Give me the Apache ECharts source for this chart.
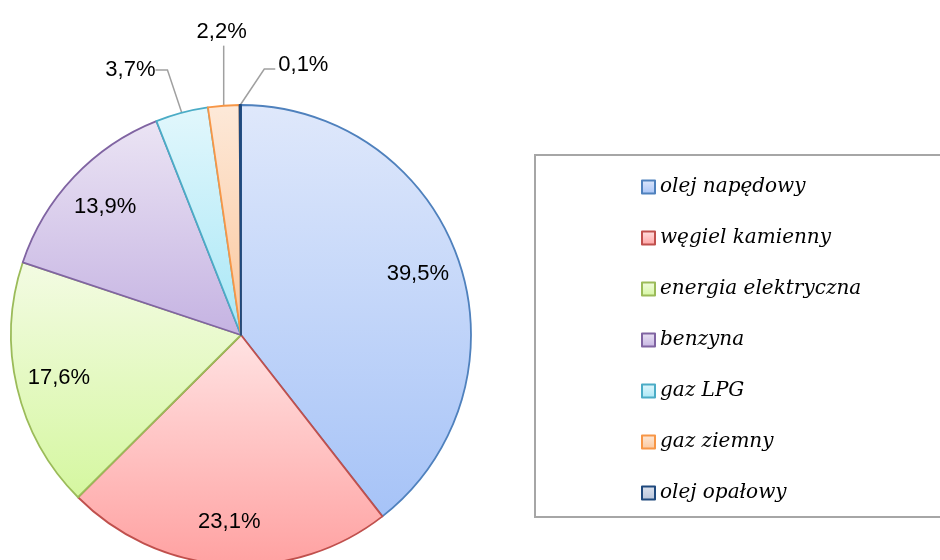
<!DOCTYPE html>
<html>
<head>
<meta charset="utf-8">
<script src="https://cdn.jsdelivr.net/npm/echarts@6/dist/echarts.min.js"></script>
<style>
  html, body { margin: 0; padding: 0; background: #fff; }
  #main { width: 940px; height: 560px; }
</style>
</head>
<body>
<div id="main"></div>
<script>
// dane
var categories = ['olej napędowy', 'węgiel kamienny', 'energia elektryczna', 'benzyna', 'gaz LPG', 'gaz ziemny', 'olej opałowy'];
var shares = [39.5, 23.1, 17.6, 13.9, 3.7, 2.2, 0.1];

// kolory (góra / dół gradientu, obramowanie)
var topColors = ['#dfe8fb', '#ffe3e3', '#f3fbe3', '#ebe4f4', '#e2f7fc', '#fde9d9', '#dde3ee'];
var bottomColors = ['#a6c3f7', '#ffa1a1', '#d5f7a0', '#c5b3e2', '#a8e7f6', '#fbc79c', '#b8c4da'];
var borderColors = ['#4f81bd', '#c0504d', '#9bbb59', '#8064a2', '#4bacc6', '#f79646', '#1f497d'];

var R = 230;
var labelFont = 'Liberation Sans';

function fmt(v) {
  return v.toFixed(1).replace('.', ',') + '%';
}

function grad(i) {
  return new echarts.graphic.LinearGradient(0, 0, 0, 1, [
    { offset: 0, color: topColors[i] },
    { offset: 1, color: bottomColors[i] }
  ]);
}

// duże wycinki - etykiety w środku, małe - na zewnątrz
var mainData = shares.map(function (v, i) {
  return {
    name: categories[i],
    value: v,
    itemStyle: { color: grad(i), borderColor: borderColors[i], borderWidth: 1.8 },
    label: { show: v < 5 },
    labelLine: { show: v < 5 }
  };
});

var ringData = shares.map(function (v, i) {
  return {
    name: categories[i],
    value: v,
    label: { show: v >= 5 }
  };
});

var chart = echarts.init(document.getElementById('main'));

var option = {
  backgroundColor: '#fff',
  animation: false,
  graphic: [{
    type: 'rect',
    shape: { x: 535, y: 155, width: 420, height: 362 },
    style: { fill: 'none', stroke: '#a6a6a6', lineWidth: 2 },
    z: 0
  }],
  legend: {
    orient: 'vertical',
    left: 636,
    top: 172,
    itemWidth: 13,
    itemHeight: 13,
    itemGap: 31,
    icon: 'rect',
    data: categories,
    selectedMode: false,
    textStyle: {
      fontFamily: 'DejaVu Serif',
      fontStyle: 'italic',
      fontSize: 20,
      color: '#000'
    }
  },
  series: [
    {
      type: 'pie',
      center: [241, 335],
      radius: [0, R],
      startAngle: 90,
      clockwise: true,
      silent: true,
      avoidLabelOverlap: false,
      data: mainData,
      label: {
        position: 'outside',
        formatter: function (p) { return fmt(p.value); },
        fontFamily: labelFont,
        fontSize: 22,
        color: '#000'
      },
      labelLine: {
        length: 40,
        length2: 12,
        lineStyle: { color: '#a0a0a0', width: 1.5 }
      },
      labelLayout: function (p) {
        var pts = p.labelLinePoints;
        if (!pts) return;
        var p0 = pts[0];
        if (p.dataIndex === 4) {
          return {
            x: pts[2][0] - 4, y: pts[2][1] - 4,
            align: 'right', verticalAlign: 'middle'
          };
        }
        if (p.dataIndex === 5) {
          return {
            x: p0[0] - 2, y: p0[1] - 63,
            align: 'center', verticalAlign: 'bottom',
            labelLinePoints: [p0, [p0[0], p0[1] - 60], [p0[0], p0[1] - 60]]
          };
        }
        if (p.dataIndex === 6) {
          return {
            x: p0[0] + 38, y: p0[1] - 40,
            align: 'left', verticalAlign: 'middle',
            labelLinePoints: [p0, [p0[0] + 24, p0[1] - 36], [p0[0] + 35, p0[1] - 36]]
          };
        }
      },
      emphasis: { disabled: true }
    },
    {
      type: 'pie',
      center: [241, 335],
      radius: [R * 0.6, R],
      startAngle: 90,
      clockwise: true,
      silent: true,
      data: ringData,
      itemStyle: { color: 'rgba(0,0,0,0)', borderWidth: 0 },
      label: {
        position: 'inside',
        formatter: function (p) { return fmt(p.value); },
        fontFamily: labelFont,
        fontSize: 22,
        color: '#000'
      },
      labelLine: { show: false },
      emphasis: { disabled: true },
      tooltip: { show: false }
    }
  ]
};

chart.setOption(option);
</script>
</body>
</html>
